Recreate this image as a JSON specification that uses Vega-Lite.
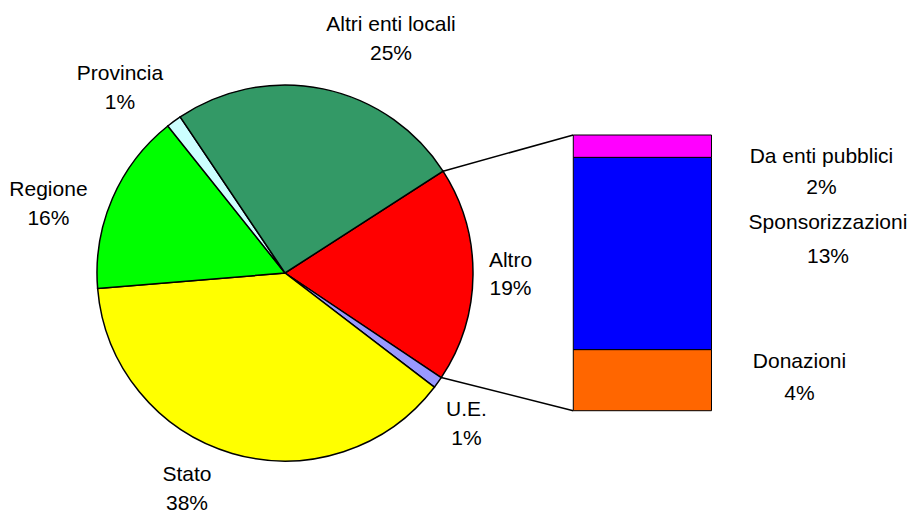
{
  "$schema": "https://vega.github.io/schema/vega-lite/v6.json",
  "width": 570,
  "height": 512,
  "padding": 0,
  "autosize": {"type": "pad"},
  "background": "white",
  "config": {"view": {"stroke": null}},
  "datasets": {
    "pie": [
      {"cat": "Altro", "v": 18.5, "ord": 1, "label": "Altro\n19%"},
      {"cat": "U.E.", "v": 1.0, "ord": 2, "label": "U.E.\n1%"},
      {"cat": "Stato", "v": 38.3, "ord": 3, "label": "Stato\n38%"},
      {"cat": "Regione", "v": 15.6, "ord": 4, "label": "Regione\n16%"},
      {"cat": "Provincia", "v": 1.3, "ord": 5, "label": "Provincia\n1%"},
      {"cat": "Altri enti locali", "v": 25.3, "ord": 6, "label": "Altri enti locali\n25%"}
    ],
    "bar": [
      {"cat": "Donazioni", "v": 4.1, "ord": 1, "label": "Donazioni\n4%"},
      {"cat": "Sponsorizzazioni", "v": 12.9, "ord": 2, "label": "Sponsorizzazioni\n13%"},
      {"cat": "Da enti pubblici", "v": 1.5, "ord": 3, "label": "Da enti pubblici\n2%"}
    ],
    "connector": [{"link": "Altro"}]
  },
  "resolve": {"scale": {"x": "independent", "y": "independent"}},
  "layer": [
    {
      "data": {"name": "pie"},
      "mark": {"type": "arc", "outerRadius": 188, "yOffset": 17, "stroke": "#000000", "strokeWidth": 1.5},
      "encoding": {
        "theta": {"field": "v", "type": "quantitative", "stack": true, "scale": {"domain": [0, 100], "range": [0.99833, 7.28152]}},
        "order": {"field": "ord", "type": "quantitative"},
        "color": {"field": "cat", "type": "nominal", "legend": null,
          "scale": {"domain": ["Altro", "U.E.", "Stato", "Regione", "Provincia", "Altri enti locali", "Donazioni", "Sponsorizzazioni", "Da enti pubblici"],
                    "range": ["#FF0000", "#9999FF", "#FFFF00", "#00FF00", "#CCFFFF", "#339966", "#FF6600", "#0000FF", "#FF00FF"]}}
      }
    },
    {
      "data": {"name": "connector"},
      "mark": {"type": "rule", "stroke": "#000000", "strokeWidth": 1.5},
      "encoding": {
        "x": {"datum": 0.8406, "type": "quantitative", "scale": {"domain": [-1.516, 1.516], "nice": false, "zero": false}, "axis": null},
        "y": {"datum": 0.5417, "type": "quantitative", "scale": {"domain": [-1.2713, 1.4521], "nice": false, "zero": false}, "axis": null},
        "x2": {"datum": 1.5335},
        "y2": {"datum": 0.734}
      }
    },
    {
      "data": {"name": "connector"},
      "mark": {"type": "rule", "stroke": "#000000", "strokeWidth": 1.5},
      "encoding": {
        "x": {"datum": 0.831, "type": "quantitative", "scale": {"domain": [-1.516, 1.516], "nice": false, "zero": false}, "axis": null},
        "y": {"datum": -0.5563, "type": "quantitative", "scale": {"domain": [-1.2713, 1.4521], "nice": false, "zero": false}, "axis": null},
        "x2": {"datum": 1.5335},
        "y2": {"datum": -0.7324}
      }
    },
    {
      "data": {"name": "bar"},
      "transform": [{"stack": "v", "groupby": [], "as": ["v0", "v1"], "sort": [{"field": "ord", "order": "ascending"}]}],
      "mark": {"type": "rect", "stroke": "#000000", "strokeWidth": 1},
      "encoding": {
        "x": {"datum": 1.5335, "type": "quantitative", "scale": {"domain": [-1.516, 1.516], "nice": false, "zero": false}, "axis": null},
        "x2": {"datum": 2.2686},
        "y": {"field": "v0", "type": "quantitative", "scale": {"domain": [-6.797, 27.559], "nice": false, "zero": false}, "axis": null},
        "y2": {"field": "v1"},
        "color": {"field": "cat", "type": "nominal", "legend": null,
          "scale": {"domain": ["Altro", "U.E.", "Stato", "Regione", "Provincia", "Altri enti locali", "Donazioni", "Sponsorizzazioni", "Da enti pubblici"],
                    "range": ["#FF0000", "#9999FF", "#FFFF00", "#00FF00", "#CCFFFF", "#339966", "#FF6600", "#0000FF", "#FF00FF"]}}
      }
    },
    {
      "data": {"name": "pie"},
      "mark": {"type": "text", "radius": 230, "dx": 59.5, "dy": -5.7, "font": "Liberation Sans", "fontSize": 21, "lineHeight": 29, "lineBreak": "\n", "align": "center", "baseline": "middle", "color": "#000000"},
      "encoding": {
        "theta": {"field": "v", "type": "quantitative", "stack": true, "scale": {"domain": [0, 100], "range": [0.99833, 7.28152]}},
        "order": {"field": "ord", "type": "quantitative"},
        "detail": {"field": "cat", "type": "nominal"},
        "text": {"condition": {"test": "datum.cat === 'Altri enti locali'", "field": "label", "type": "nominal"}, "value": ""}
      }
    },
    {
      "data": {"name": "pie"},
      "mark": {"type": "text", "radius": 230, "dx": -29.1, "dy": 3.5, "font": "Liberation Sans", "fontSize": 21, "lineHeight": 29, "lineBreak": "\n", "align": "center", "baseline": "middle", "color": "#000000"},
      "encoding": {
        "theta": {"field": "v", "type": "quantitative", "stack": true, "scale": {"domain": [0, 100], "range": [0.99833, 7.28152]}},
        "order": {"field": "ord", "type": "quantitative"},
        "detail": {"field": "cat", "type": "nominal"},
        "text": {"condition": {"test": "datum.cat === 'Provincia'", "field": "label", "type": "nominal"}, "value": ""}
      }
    },
    {
      "data": {"name": "pie"},
      "mark": {"type": "text", "radius": 230, "dx": -25.4, "dy": 24.7, "font": "Liberation Sans", "fontSize": 21, "lineHeight": 29, "lineBreak": "\n", "align": "center", "baseline": "middle", "color": "#000000"},
      "encoding": {
        "theta": {"field": "v", "type": "quantitative", "stack": true, "scale": {"domain": [0, 100], "range": [0.99833, 7.28152]}},
        "order": {"field": "ord", "type": "quantitative"},
        "detail": {"field": "cat", "type": "nominal"},
        "text": {"condition": {"test": "datum.cat === 'Regione'", "field": "label", "type": "nominal"}, "value": ""}
      }
    },
    {
      "data": {"name": "pie"},
      "mark": {"type": "text", "radius": 230, "dx": -4.5, "dy": 3, "font": "Liberation Sans", "fontSize": 21, "lineHeight": 28, "lineBreak": "\n", "align": "center", "baseline": "middle", "color": "#000000"},
      "encoding": {
        "theta": {"field": "v", "type": "quantitative", "stack": true, "scale": {"domain": [0, 100], "range": [0.99833, 7.28152]}},
        "order": {"field": "ord", "type": "quantitative"},
        "detail": {"field": "cat", "type": "nominal"},
        "text": {"condition": {"test": "datum.cat === 'Altro'", "field": "label", "type": "nominal"}, "value": ""}
      }
    },
    {
      "data": {"name": "pie"},
      "mark": {"type": "text", "radius": 230, "dx": -5.5, "dy": 20.6, "font": "Liberation Sans", "fontSize": 21, "lineHeight": 29, "lineBreak": "\n", "align": "center", "baseline": "middle", "color": "#000000"},
      "encoding": {
        "theta": {"field": "v", "type": "quantitative", "stack": true, "scale": {"domain": [0, 100], "range": [0.99833, 7.28152]}},
        "order": {"field": "ord", "type": "quantitative"},
        "detail": {"field": "cat", "type": "nominal"},
        "text": {"condition": {"test": "datum.cat === 'U.E.'", "field": "label", "type": "nominal"}, "value": ""}
      }
    },
    {
      "data": {"name": "pie"},
      "mark": {"type": "text", "radius": 230, "dx": -33.3, "dy": -1.4, "font": "Liberation Sans", "fontSize": 21, "lineHeight": 29, "lineBreak": "\n", "align": "center", "baseline": "middle", "color": "#000000"},
      "encoding": {
        "theta": {"field": "v", "type": "quantitative", "stack": true, "scale": {"domain": [0, 100], "range": [0.99833, 7.28152]}},
        "order": {"field": "ord", "type": "quantitative"},
        "detail": {"field": "cat", "type": "nominal"},
        "text": {"condition": {"test": "datum.cat === 'Stato'", "field": "label", "type": "nominal"}, "value": ""}
      }
    },
    {
      "data": {"name": "bar"},
      "transform": [{"stack": "v", "groupby": [], "as": ["v0", "v1"], "sort": [{"field": "ord", "order": "ascending"}]}, {"filter": "datum.cat === 'Da enti pubblici'"}],
      "mark": {"type": "text", "dx": 110, "dy": 21.5, "font": "Liberation Sans", "fontSize": 21, "lineHeight": 31, "lineBreak": "\n", "align": "center", "baseline": "middle", "color": "#000000"},
      "encoding": {
        "x": {"datum": 2.2686, "type": "quantitative", "scale": {"domain": [-1.516, 1.516], "nice": false, "zero": false}, "axis": null},
        "y": {"field": "v1", "type": "quantitative", "scale": {"domain": [-6.797, 27.559], "nice": false, "zero": false}, "axis": null},
        "text": {"field": "label", "type": "nominal"}
      }
    },
    {
      "data": {"name": "bar"},
      "transform": [{"stack": "v", "groupby": [], "as": ["v0", "v1"], "sort": [{"field": "ord", "order": "ascending"}]}, {"filter": "datum.cat === 'Sponsorizzazioni'"}],
      "mark": {"type": "text", "dx": 116.5, "dy": 65.7, "font": "Liberation Sans", "fontSize": 21, "lineHeight": 34, "lineBreak": "\n", "align": "center", "baseline": "middle", "color": "#000000"},
      "encoding": {
        "x": {"datum": 2.2686, "type": "quantitative", "scale": {"domain": [-1.516, 1.516], "nice": false, "zero": false}, "axis": null},
        "y": {"field": "v1", "type": "quantitative", "scale": {"domain": [-6.797, 27.559], "nice": false, "zero": false}, "axis": null},
        "text": {"field": "label", "type": "nominal"}
      }
    },
    {
      "data": {"name": "bar"},
      "transform": [{"stack": "v", "groupby": [], "as": ["v0", "v1"], "sort": [{"field": "ord", "order": "ascending"}]}, {"filter": "datum.cat === 'Donazioni'"}],
      "mark": {"type": "text", "dx": 88, "dy": 12.4, "font": "Liberation Sans", "fontSize": 21, "lineHeight": 32, "lineBreak": "\n", "align": "center", "baseline": "middle", "color": "#000000"},
      "encoding": {
        "x": {"datum": 2.2686, "type": "quantitative", "scale": {"domain": [-1.516, 1.516], "nice": false, "zero": false}, "axis": null},
        "y": {"field": "v1", "type": "quantitative", "scale": {"domain": [-6.797, 27.559], "nice": false, "zero": false}, "axis": null},
        "text": {"field": "label", "type": "nominal"}
      }
    }
  ]
}
